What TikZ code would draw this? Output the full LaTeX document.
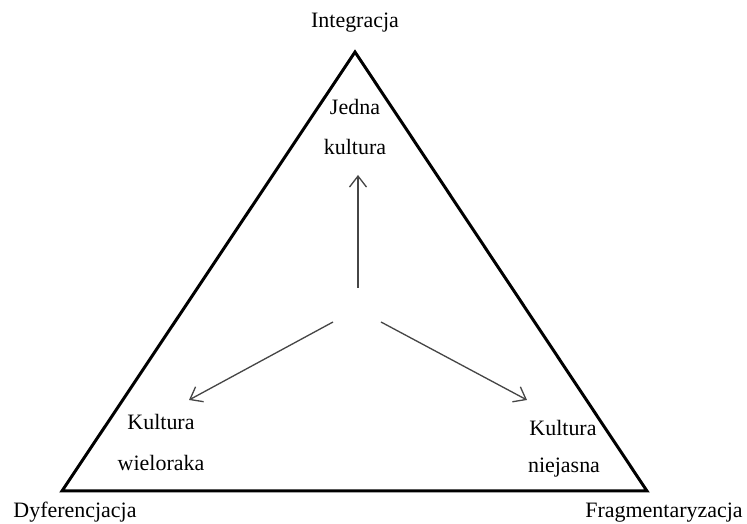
\documentclass[tikz,border=0pt]{standalone}
\usepackage{fontspec}
\setmainfont{Liberation Serif}
\usepackage{xcolor}
\definecolor{arrowgray}{RGB}{70,70,70}
\usepackage{tikz}
\usetikzlibrary{positioning, arrows.meta}
\tikzstyle{pole} = [
    font=\fontsize{12.5}{15}\selectfont, inner sep=0pt,
]
\tikzstyle{kind} = [
    font=\fontsize{12.5}{15}\selectfont, inner sep=0pt,
]
\tikzstyle{edge} = [line width=1.7pt, line join=miter]
\tikzstyle{arrow} = [-{Straight Barb[length=2.2mm,width=3.4mm]}, color=arrowgray, line width=0.75pt]

\begin{document}
\begin{tikzpicture}
    \useasboundingbox (0,0) rectangle (14.94,10.48);
    % corners of the triangle
    \coordinate (top) at (7.10, 9.44);
    \coordinate (left) at (1.24, 0.66);
    \coordinate (right) at (12.94, 0.66);
    \draw[edge] (top) -- (left) -- (right) -- cycle;

    % poles
    \node (integ) at (7.10, 10.02) [pole] {Integracja};
    \node (dyfer) at (1.50, 0.24) [pole] {Dyferencjacja};
    \node (fragm) at (13.28, 0.22) [pole] {Fragmentaryzacja};

    % cultures
    \node (jedna) at (7.10, 8.34) [kind] {Jedna};
    \node (jednak) at (7.10, 7.54) [kind] {kultura};
    \node (wielk) at (3.22, 2.04) [kind] {Kultura};
    \node (wiel) at (3.22, 1.22) [kind] {wieloraka};
    \node (niejk) at (11.26, 1.92) [kind] {Kultura};
    \node (niej) at (11.28, 1.12) [kind] {niejasna};

    % arrows from the middle
    \coordinate (upfrom) at (7.16, 4.72);
    \coordinate (upto) at (7.16, 6.98);
    \coordinate (lfrom) at (6.66, 4.04);
    \coordinate (lto) at (3.78, 2.48);
    \coordinate (rfrom) at (7.62, 4.04);
    \coordinate (rto) at (10.54, 2.48);
    \draw[arrow] (upfrom) -- (upto);
    \draw[arrow] (lfrom) -- (lto);
    \draw[arrow] (rfrom) -- (rto);
\end{tikzpicture}
\end{document}
